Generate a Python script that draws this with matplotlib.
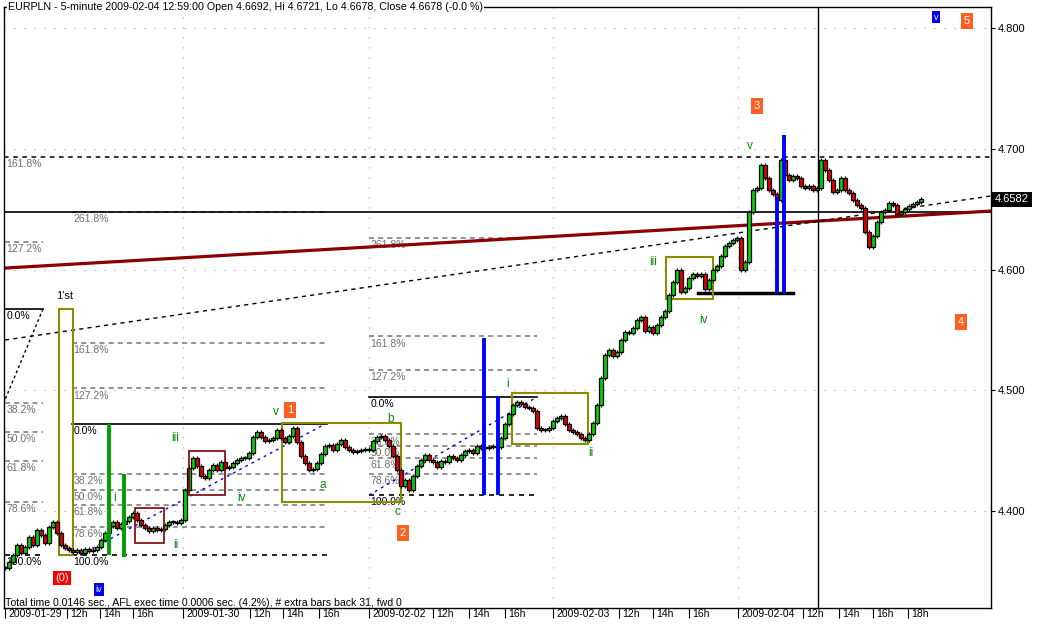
import numpy as np
import matplotlib.pyplot as plt
from matplotlib.transforms import blended_transform_factory, ScaledTranslation

plt.rcParams['font.family'] = ['Liberation Sans', 'DejaVu Sans']

# EURPLN 5-minute closes (bar index = position)
closes = [
    4.3528, 4.3578, 4.3636, 4.3719, 4.3652, 4.3702, 4.3785, 4.3719, 4.3842, 4.3801,
    4.3735, 4.3868, 4.3909, 4.3818, 4.3719, 4.3694, 4.3677, 4.3660, 4.3677, 4.3652,
    4.3685, 4.3669, 4.3677, 4.3702, 4.3760, 4.3818, 4.3876, 4.3909, 4.3859, 4.3892,
    4.3917, 4.3950, 4.3984, 4.3925, 4.3884, 4.3859, 4.3834, 4.3859, 4.3842, 4.3851,
    4.3884, 4.3909, 4.3909, 4.3901, 4.3925,
    4.4174, 4.4356, 4.4439, 4.4373, 4.4290, 4.4273, 4.4339, 4.4381, 4.4339, 4.4406,
    4.4356, 4.4364, 4.4398, 4.4422, 4.4439, 4.4439, 4.4480, 4.4613, 4.4654, 4.4613,
    4.4580, 4.4588, 4.4605, 4.4671, 4.4605, 4.4572, 4.4621, 4.4687, 4.4572, 4.4456,
    4.4398, 4.4339, 4.4348, 4.4398, 4.4472, 4.4538, 4.4547, 4.4505, 4.4555, 4.4588,
    4.4530, 4.4505, 4.4489, 4.4497, 4.4505, 4.4514, 4.4505,
    4.4580, 4.4613, 4.4621, 4.4588, 4.4538, 4.4456, 4.4339, 4.4207, 4.4257, 4.4174,
    4.4290, 4.4373, 4.4422, 4.4464, 4.4422, 4.4406, 4.4364, 4.4414, 4.4406, 4.4456,
    4.4439, 4.4422, 4.4464, 4.4497, 4.4505, 4.4480, 4.4538, 4.4522, 4.4522, 4.4530,
    4.4538, 4.4530, 4.4605, 4.4720, 4.4803, 4.4878, 4.4903, 4.4886, 4.4861, 4.4853,
    4.4828, 4.4687, 4.4671, 4.4671, 4.4687, 4.4745,
    4.4770, 4.4787, 4.4720, 4.4671, 4.4654, 4.4638, 4.4605, 4.4588, 4.4638, 4.4729,
    4.4878, 4.5102, 4.5292, 4.5333, 4.5284, 4.5317, 4.5416, 4.5483, 4.5474, 4.5515,
    4.5582, 4.5607, 4.5491, 4.5524, 4.5474, 4.5540, 4.5607, 4.5657, 4.5789, 4.5896,
    4.5996, 4.5814, 4.5847, 4.5930, 4.5963, 4.5946, 4.5963, 4.5839, 4.5913, 4.5996,
    4.6029, 4.6112, 4.6195, 4.6220, 4.6244, 4.6261,
    4.5996, 4.6062, 4.6476, 4.6658, 4.6675, 4.6865, 4.6758, 4.6658, 4.6625, 4.6576,
    4.6907, 4.6783, 4.6741, 4.6775, 4.6758, 4.6692, 4.6675, 4.6692, 4.6658, 4.6675,
    4.6907, 4.6824, 4.6741, 4.6642, 4.6658, 4.6758, 4.6658, 4.6634, 4.6576, 4.6534,
    4.6509, 4.6311, 4.6187, 4.6278, 4.6394, 4.6476, 4.6493, 4.6551, 4.6534, 4.6460,
    4.6476, 4.6501, 4.6526, 4.6543, 4.6559, 4.6582,
]
opens = [closes[0]] + closes[:-1]
last_close = 4.6582

price_ticks = [4.4, 4.5, 4.6, 4.7, 4.8]
date_ticks = [0, 15.5, 23.75, 32, 44.5, 61.25, 69.5, 78.5, 91, 107, 116, 125,
              137, 153.5, 162, 171, 183.25, 199.5, 208.5, 217, 225.75]
date_labels = ['2009-01-29', '12h', '14h', '16h', '2009-01-30', '12h', '14h', '16h',
               '2009-02-02', '12h', '14h', '16h', '2009-02-03', '12h', '14h', '16h',
               '2009-02-04', '12h', '14h', '16h', '18h']
day_starts = [44.5, 91, 137, 183.25]
cursor_bar = 203.25

# fibonacci tools: (start bar, end bar, 0% price, 100% price, levels)
fib1 = (0, 9.5, 4.5673, 4.3636, [1.272, 0.0, 0.382, 0.5, 0.618, 0.786, 1.0])
fib2 = (16.75, 80.5, 4.4720, 4.3636, [2.618, 1.618, 1.272, 0.0, 0.382, 0.5, 0.618, 0.786, 1.0])
fib3 = (91, 133, 4.4944, 4.4132, [2.618, 1.618, 1.272, 0.0, 0.382, 0.5, 0.618, 0.786, 1.0])

# wave labels (bar, price, text)
waves = [(27.5, 4.4108, 'i'), (42.75, 4.3718, 'ii'), (42.5, 4.4605, 'iii'),
         (59.25, 4.4108, 'iv'), (67.75, 4.4820, 'v'), (79.5, 4.4215, 'a'),
         (96.5, 4.4762, 'b'), (98, 4.3992, 'c'), (125.75, 4.5052, 'i'),
         (146.5, 4.4480, 'ii'), (162, 4.6062, 'iii'), (174.75, 4.5582, 'iv'),
         (186.25, 4.7023, 'v')]
orange_boxes = [(71.25, 4.4836, '1'), (99.5, 4.3818, '2'), (188, 4.7354, '3'),
                (239, 4.5565, '4'), (240.5, 4.8058, '5')]
blue_boxes = [(23.5, 4.3350, 'iv'), (232.75, 4.8091, 'v')]

olive_rects = [(13.5, 17, 4.3636, 4.5673), (69.25, 99, 4.4075, 4.4729),
               (126.75, 145.75, 4.4555, 4.4977), (165.25, 177, 4.5756, 4.6104)]
maroon_rects = [(32.5, 39.75, 4.3735, 4.4025), (46, 55, 4.4132, 4.4497)]
green_vlines = [(26, 4.3636, 4.4720), (29.75, 4.3619, 4.4306)]
blue_vlines = [(119.75, 4.4132, 4.5433), (123.25, 4.4132, 4.4952),
               (193, 4.5805, 4.6600), (194.75, 4.5805, 4.7114)]

fig = plt.figure(figsize=(10.44, 6.25), dpi=100)
ax = fig.add_axes([4/1044, 17/625, 987/1044, 601.5/625])
ax.set_xlim(-0.25, 246.5)
ax.set_ylim(4.3197, 4.8178)

# grid
ax.hlines(price_ticks, -0.25, 246.5, colors='#a8a8a8', lw=0.8, linestyles=(0, (1, 8)), zorder=0)
ax.vlines(day_starts, 4.3197, 4.8178, colors='#a8a8a8', lw=0.8, linestyles=(0, (1, 8)), zorder=0)

def fib(tool):
    x0, x1, p0, p100, levels = tool
    d = p0 - p100
    for r in levels:
        p = p0 - r*d if r <= 1 else p100 + r*d
        if r == 0:
            ax.plot([x0, x1], [p, p], color='black', lw=1.2, zorder=1)
            tc = 'black'
        elif r == 1:
            ax.plot([x0, x1], [p, p], color='black', lw=1.2, ls=(0, (3, 3)), zorder=1)
            tc = 'black'
        else:
            ax.plot([x0, x1], [p, p], color='#808080', lw=1.2, ls=(0, (3, 2.5)), zorder=1)
            tc = '#707070'
        ax.annotate('%.1f%%' % (r*100), (x0, p), xytext=(1, -1.5), textcoords='offset points',
                    ha='left', va='top', fontsize=7.5, color=tc, zorder=1)

fib(fib1)
fib(fib2)
fib(fib3)

# long lines
ax.plot([-0.25, 246.5], [4.6932, 4.6932], color='black', lw=1.1, ls=(0, (3, 3)), zorder=1)
ax.annotate('161.8%', (0, 4.6932), xytext=(1, -1.5), textcoords='offset points',
            ha='left', va='top', fontsize=7.5, color='#707070')
ax.plot([-0.25, 246.5], [4.6476, 4.6476], color='black', lw=1.2, zorder=2)
ax.plot([0, 246.5], [4.6012, 4.6484], color='#8b0000', lw=2.3, zorder=2)
ax.plot([0, 246.5], [4.5416, 4.6609], color='black', lw=1, ls=(0, (3, 3)), zorder=2)
ax.plot([-16.25, 9.5], [4.3636, 4.5673], color='black', lw=1, ls=(0, (2, 2)), zorder=2)
ax.plot([18.75, 80], [4.3636, 4.4720], color='#0000ff', lw=1, ls=(0, (2, 3)), zorder=2)
ax.plot([91, 133], [4.4132, 4.4944], color='#0000ff', lw=1, ls=(0, (2, 3)), zorder=2)
ax.plot([173.25, 197], [4.5805, 4.5805], color='black', lw=2.5, zorder=2)
ax.axvline(cursor_bar, color='black', lw=1, zorder=2)

for x0, x1, y0, y1 in olive_rects:
    ax.add_patch(plt.Rectangle((x0, y0), x1-x0, y1-y0, fill=False, ec='#8c8c00', lw=1.5, zorder=2))
for x0, x1, y0, y1 in maroon_rects:
    ax.add_patch(plt.Rectangle((x0, y0), x1-x0, y1-y0, fill=False, ec='#800000', lw=1.2, zorder=4))
for x, y0, y1 in green_vlines:
    ax.vlines(x, y0, y1, colors='#00a000', lw=2.8, zorder=4)
for x, y0, y1 in blue_vlines:
    ax.vlines(x, y0, y1, colors='#0000ff', lw=2.8, zorder=4)

# candles
idx = np.arange(len(closes))
o = np.array(opens)
c = np.array(closes)
lo = np.minimum(o, c)
hi = np.maximum(o, c)
wick = 0.0018
ax.vlines(idx, lo - wick, hi + wick, colors='black', lw=0.9, zorder=3)
cols = np.where(c >= o, '#00d400', '#e00000')
ax.bar(idx, np.maximum(hi - lo, 0.0006), bottom=lo, width=0.8, color=cols,
       edgecolor='black', lw=0.9, zorder=3)

# labels
for x, y, t in waves:
    ax.text(x, y, t, color='#008c00', fontsize=8.5, ha='center', va='center', zorder=5)
for x, y, t in orange_boxes:
    ax.text(x, y, t, color='white', fontsize=8, ha='center', va='center', zorder=5,
            bbox=dict(facecolor='#ff6020', edgecolor='none', pad=2.2))
for x, y, t in blue_boxes:
    ax.text(x, y, t, color='white', fontsize=6.5, ha='center', va='center', zorder=5,
            bbox=dict(facecolor='#0000ee', edgecolor='none', pad=1.2))
ax.text(14.25, 4.3445, '(0)', color='white', fontsize=8, ha='center', va='center', zorder=5,
        bbox=dict(facecolor='#ff0000', edgecolor='none', pad=1.5))
ax.text(15, 4.5781, "1'st", color='black', fontsize=8, ha='center', va='center', zorder=5)

# frame and axes
for s in ax.spines.values():
    s.set_color('black')
    s.set_linewidth(1)
ax.yaxis.tick_right()
ax.set_yticks(price_ticks)
ax.set_yticklabels(['%.3f' % p for p in price_ticks])
ax.tick_params(axis='y', length=3, pad=2, labelsize=8)
ax.set_xticks(date_ticks)
ax.set_xticklabels(date_labels, ha='left')
ax.tick_params(axis='x', direction='out', length=7, pad=-6, labelsize=7.5)
shift = ScaledTranslation(3/100, 0, fig.dpi_scale_trans)
for lbl in ax.get_xticklabels():
    lbl.set_transform(lbl.get_transform() + shift)

tr = blended_transform_factory(ax.transAxes, ax.transData)
ax.text(1.004, last_close, '%.4f' % last_close, transform=tr, color='white', fontsize=8,
        ha='left', va='center', bbox=dict(facecolor='black', edgecolor='none', pad=1.8), clip_on=False)

ax.text(0.004, 1.0, 'EURPLN - 5-minute 2009-02-04 12:59:00 Open 4.6692, Hi 4.6721, Lo 4.6678, Close 4.6678 (-0.0 %)',
        transform=ax.transAxes, fontsize=7.7, ha='left', va='center',
        bbox=dict(facecolor='white', edgecolor='none', pad=0.5), zorder=6)
ax.text(0.001, 0.008, 'Total time 0.0146 sec., AFL exec time 0.0006 sec. (4.2%), # extra bars back 31, fwd 0',
        transform=ax.transAxes, fontsize=7.6, ha='left', va='center', zorder=6)

fig.savefig('out.png', dpi=100)
